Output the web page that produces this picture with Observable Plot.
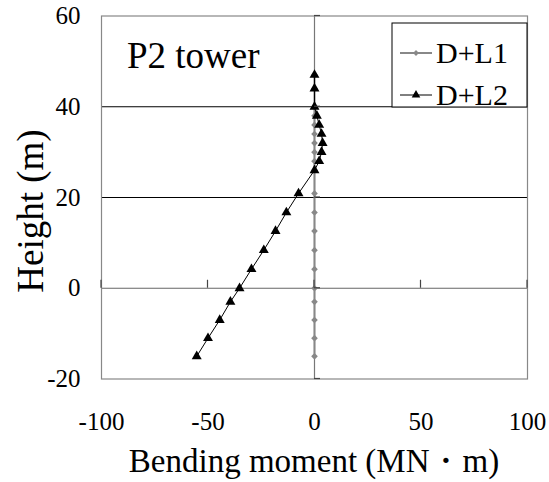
<!DOCTYPE html>
<html>
<head>
<meta charset="utf-8">
<script src="https://cdn.jsdelivr.net/npm/d3@7"></script>
<script src="https://cdn.jsdelivr.net/npm/@observablehq/plot@0.6"></script>
<style>
  html, body { margin: 0; padding: 0; background: #fff; font-family: "Liberation Serif", serif; }
  #chart svg { display: block; }
  #chart svg, #chart svg text { font-family: "Liberation Serif", serif !important; }
</style>
</head>
<body>
<div id="chart"></div>
<script>
// Data
const heights = [-15, -11, -7, -3, 0, 4.2, 8.4, 12.6, 16.7, 20.9, 26, 28, 30, 32, 34, 36, 38, 40, 44, 47];
const momentDL1 = [0, 0, 0, 0, 0, 0, 0, 0, 0, 0, 0, 0, 0, 0, 0, 0, 0, 0, 0, 0];
const momentDL2 = [-55.3, -50, -44.5, -39.5, -35.2, -29.6, -23.8, -18.3, -13.2, -7.5, 0, 2.2, 3.3, 3.8, 3.3, 2.2, 1.1, 0, 0, 0];
const seriesNames = ["D+L1", "D+L2"];
const xTicks = [-100, -50, 0, 50, 100];
const yTicks = [-20, 0, 20, 40, 60];
const gridY = [20, 40];
const panelTitle = "P2 tower";
const xTitle = "Bending moment (MN・m)";
const yTitle = "Height (m)";

const dl1 = heights.map((h, i) => ({h, m: momentDL1[i]}));
const dl2 = heights.map((h, i) => ({h, m: momentDL2[i]}));

const font = "Liberation Serif";
const W = 549, H = 482;
const mL = 101, mR = 22, mT = 15.5, mB = 103.5;
const fmt = d => String(d);

const plot = Plot.plot({
  width: W,
  height: H,
  marginLeft: mL,
  marginRight: mR,
  marginTop: mT,
  marginBottom: mB,
  style: {background: "#fff", color: "#000"},
  x: {domain: [-100, 100], ticks: xTicks},
  y: {domain: [-20, 60], ticks: yTicks},
  marks: [
    Plot.ruleY(gridY, {stroke: "#000", strokeWidth: 1}),
    Plot.ruleY([0], {stroke: "#666", strokeWidth: 1.2}),
    Plot.ruleX([0], {stroke: "#777", strokeWidth: 1.2}),
    Plot.frame({stroke: "#888", strokeWidth: 1.2}),
    Plot.axisX(xTicks, {tickSize: 0, tickPadding: 33, fontSize: 25, label: null, tickFormat: fmt}),
    Plot.axisY(yTicks, {tickSize: 0, tickPadding: 21, fontSize: 25, label: null, tickFormat: fmt}),
    Plot.line(dl1, {x: "m", y: "h", stroke: "#888", strokeWidth: 2}),
    Plot.dot(dl1, {x: "m", y: "h", symbol: "diamond2", r: 3, fill: "#888", stroke: "none"}),
    Plot.line(dl2, {x: "m", y: "h", stroke: "#000", strokeWidth: 1}),
    Plot.dot(dl2, {x: "m", y: "h", symbol: "triangle", r: 3.7, fill: "#000", stroke: "none"})
  ]
});

document.getElementById("chart").appendChild(plot);

const sx = plot.scale("x"), sy = plot.scale("y");
const svg = d3.select(plot);
const g = svg.append("g").attr("fill", "#000");

// Axis tick marks (Excel-style)
const x0 = sx.apply(0), y0 = sy.apply(0);
yTicks.forEach(t => {
  g.append("line").attr("x1", x0).attr("x2", x0 + 6)
    .attr("y1", sy.apply(t)).attr("y2", sy.apply(t))
    .attr("stroke", "#444").attr("stroke-width", 1.2);
});
xTicks.forEach(t => {
  g.append("line").attr("x1", sx.apply(t)).attr("x2", sx.apply(t))
    .attr("y1", y0).attr("y2", y0 - 8)
    .attr("stroke", "#444").attr("stroke-width", 1.2);
});

// Panel title
g.append("text").attr("x", mL + 26).attr("y", 67.5)
  .attr("text-anchor", "start").attr("font-size", 37).text(panelTitle);

// Axis titles
g.append("text").attr("x", (mL + W - mR) / 2).attr("y", 471.5)
  .attr("text-anchor", "middle").attr("font-size", 33).text(xTitle);
g.append("text")
  .attr("transform", `translate(43, 211) rotate(-90)`)
  .attr("text-anchor", "middle").attr("font-size", 37).text(yTitle);

// Legend
const lg = g.append("g");
lg.append("rect").attr("x", 392).attr("y", 23).attr("width", 135).attr("height", 84)
  .attr("fill", "#fff").attr("stroke", "#000").attr("stroke-width", 1);
const legendRows = [
  {name: seriesNames[0], color: "#888", sym: d3.symbolDiamond2, size: Math.PI * 2.6 * 2.6, cy: 53},
  {name: seriesNames[1], color: "#000", sym: d3.symbolTriangle, size: Math.PI * 3.2 * 3.2, cy: 95}
];
legendRows.forEach(r => {
  lg.append("line").attr("x1", 400).attr("x2", 432).attr("y1", r.cy).attr("y2", r.cy)
    .attr("stroke", r.color).attr("stroke-width", r.color === "#888" ? 2 : 1);
  lg.append("path").attr("d", d3.symbol(r.sym, r.size)())
    .attr("transform", `translate(416, ${r.cy})`).attr("fill", r.color);
  lg.append("text").attr("x", 436).attr("y", r.cy + 10)
    .attr("text-anchor", "start").attr("font-size", 30).text(r.name);
});

// Force the serif font on every text element
svg.attr("font-family", font).style("font-family", font);
svg.selectAll("g").attr("font-family", font);
svg.selectAll("text").attr("font-family", font).style("font-family", font);
</script>
</body>
</html>
